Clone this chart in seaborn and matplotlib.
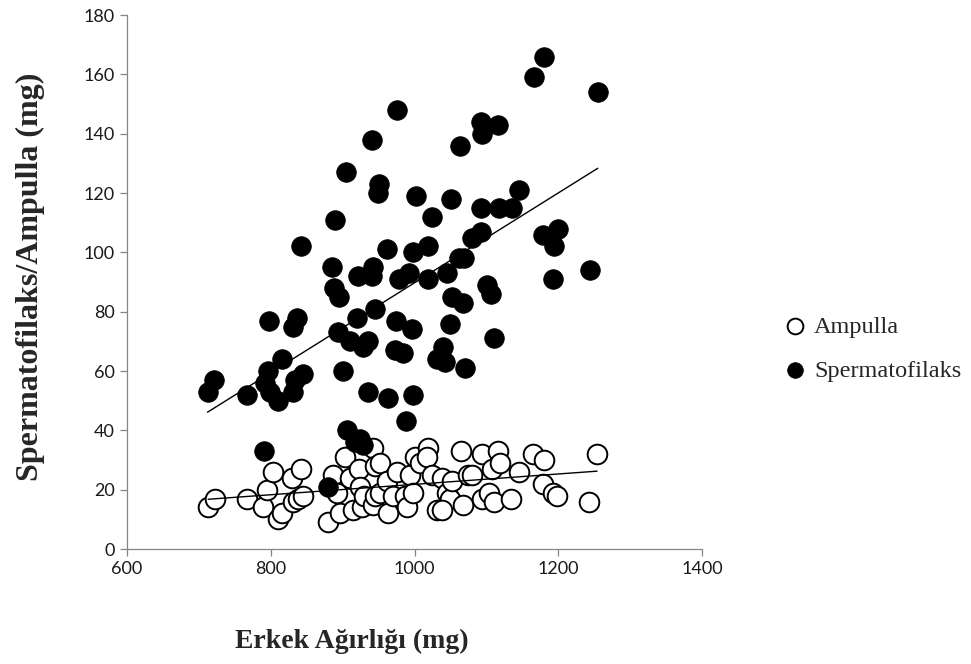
import numpy as np
import pandas as pd
import matplotlib
matplotlib.use("Agg")
import matplotlib.pyplot as plt
import seaborn as sns

# Male weight (mg) and ampulla mass (mg)
amp_weight = [713, 722, 767, 789, 795, 803, 810, 816, 830, 831, 838, 842, 845,
              880, 887, 892, 896, 903, 910, 914, 923, 924, 927, 930, 942, 942,
              945, 945, 952, 952, 962, 963, 970, 976, 987, 990, 994, 998, 1001,
              1008, 1019, 1017, 1024, 1031, 1038, 1045, 1049, 1052, 1065, 1067,
              1074, 1080, 1094, 1094, 1104, 1108, 1111, 1116, 1119, 1134, 1145,
              1165, 1179, 1180, 1193, 1198, 1243, 1254, 1038]
amp_mass = [14, 17, 17, 14, 20, 26, 10, 12, 24, 16, 17, 27, 18,
            9, 25, 19, 12, 31, 24, 13, 27, 21, 14, 18, 34, 15,
            28, 18, 29, 19, 23, 12, 18, 26, 18, 14, 25, 19, 31,
            29, 34, 31, 25, 13, 24, 19, 17, 23, 33, 15,
            25, 25, 32, 17, 19, 27, 16, 33, 29, 17, 26,
            32, 22, 30, 19, 18, 16, 32, 13]

# Male weight (mg) and spermatophylax mass (mg)
sp_weight = [975, 941, 905, 951, 949, 1002, 1051, 1063, 1024, 889, 842, 962,
             998, 1019, 1180, 1166, 1255, 1093, 1116, 1094, 1145, 1093, 1118,
             1136, 1093, 1080, 1200, 1179, 1194, 1062, 1069, 1045, 1244, 1193,
             1101, 1106, 1052, 1067, 1050, 1111, 1040, 1042, 1070, 885, 942,
             921, 941, 978, 992, 1019, 888, 895, 920, 945, 974, 997, 798, 836,
             831, 894, 910, 935, 928, 973, 984, 1031, 900, 816, 796, 721, 712,
             767, 792, 799, 810, 831, 845, 834, 935, 963, 998, 988, 906, 917,
             924, 928, 790, 880]
sp_mass = [148, 138, 127, 123, 120, 119, 118, 136, 112, 111, 102, 101,
           100, 102, 166, 159, 154, 144, 143, 140, 121, 115, 115,
           115, 107, 105, 108, 106, 102, 98, 98, 93, 94, 91,
           89, 86, 85, 83, 76, 71, 68, 63, 61, 95, 95,
           92, 92, 91, 93, 91, 88, 85, 78, 81, 77, 74, 77, 78,
           75, 73, 70, 70, 68, 67, 66, 64, 60, 64, 60, 57, 53,
           52, 56, 53, 50, 53, 59, 57, 53, 51, 52, 43, 40, 36,
           37, 35, 33, 21]

x_ticks = [600, 800, 1000, 1200, 1400]
y_ticks = [0, 20, 40, 60, 80, 100, 120, 140, 160, 180]
series_names = ["Ampulla", "Spermatofilaks"]
x_label = "Erkek Ağırlığı (mg)"
y_label = "Spermatofilaks/Ampulla (mg)"

amp = pd.DataFrame({"weight": amp_weight, "mass": amp_mass})
sp = pd.DataFrame({"weight": sp_weight, "mass": sp_mass})

sns.set_style("white")
plt.rcParams["font.family"] = ["Liberation Serif", "DejaVu Serif"]

fig = plt.figure(figsize=(9.71, 6.64), dpi=100)
ax = fig.add_axes([127 / 971, 1 - 549 / 664, (702 - 127) / 971, (549 - 15) / 664])

sns.scatterplot(data=amp, x="weight", y="mass", ax=ax, s=200, marker="o",
                facecolor="white", edgecolor="black", linewidth=1.4,
                label=series_names[0], zorder=3)
sns.scatterplot(data=sp, x="weight", y="mass", ax=ax, s=200, marker="o",
                color="black", edgecolor="black", linewidth=0.5,
                label=series_names[1], zorder=4)

# Linear trend lines for each series
for df in (amp, sp):
    sns.regplot(data=df, x="weight", y="mass", ax=ax, scatter=False, ci=None,
                truncate=True, line_kws={"color": "black", "linewidth": 1.0, "zorder": 5})

ax.set_xlim(600, 1400)
ax.set_ylim(0, 180)
ax.set_xticks(x_ticks)
ax.set_yticks(y_ticks)
ax.set_xlabel("")
ax.set_ylabel("")
for lbl in ax.get_xticklabels() + ax.get_yticklabels():
    lbl.set_fontfamily(["Lato", "DejaVu Sans"])
    lbl.set_fontsize(13)
    lbl.set_color("#1a1a1a")
ax.tick_params(axis="both", direction="out", length=5, width=0.9,
               color="#868686", pad=4, bottom=True, left=True)
for side in ("top", "right"):
    ax.spines[side].set_visible(False)
for side in ("left", "bottom"):
    ax.spines[side].set_color("#868686")
    ax.spines[side].set_linewidth(0.9)

fig.text(352 / 971, 1 - 641 / 664, x_label, ha="center", va="center",
         fontsize=20, fontweight="bold")
fig.text(30 / 971, 1 - 277 / 664, y_label, ha="center", va="center",
         rotation=90, fontsize=23, fontweight="bold")

handles, labels = ax.get_legend_handles_labels()
ax.legend_.remove()
fig.legend(handles, labels, loc="center left", bbox_to_anchor=(0.806, 0.475),
           frameon=False, fontsize=17.5, handlelength=1.0, handletextpad=0.3,
           labelspacing=0.9, markerscale=0.8, borderpad=0, borderaxespad=0)

fig.savefig("out.png", dpi=100)
